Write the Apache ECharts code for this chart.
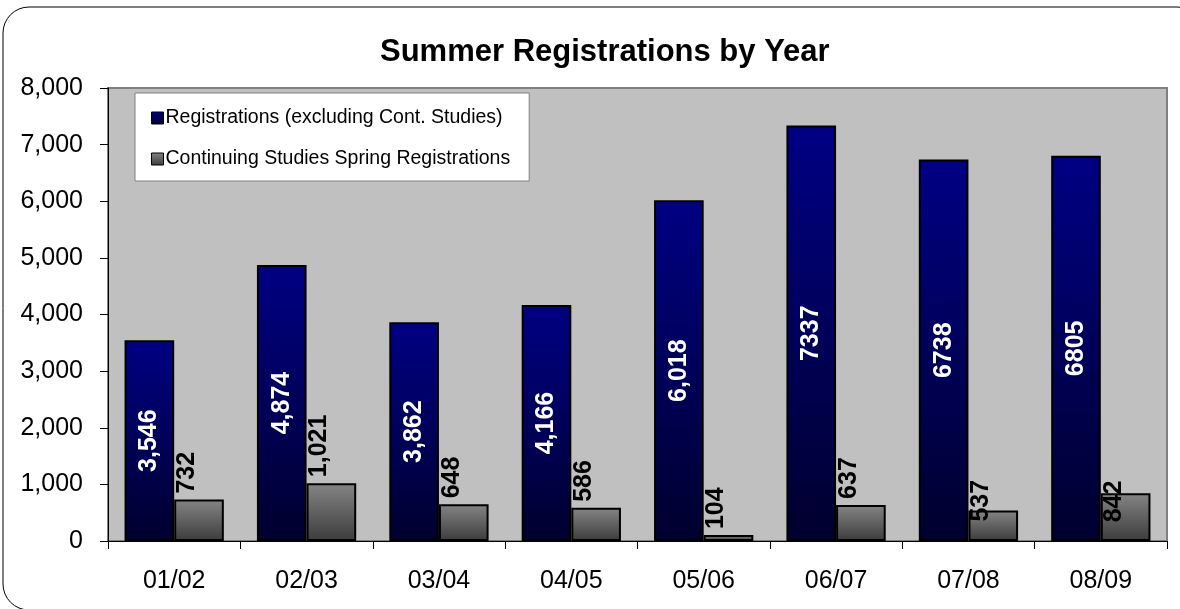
<!DOCTYPE html>
<html>
<head>
<meta charset="utf-8">
<script src="https://cdn.jsdelivr.net/npm/echarts@6/dist/echarts.min.js"></script>
<style>
  html, body { margin: 0; padding: 0; background: #fff; }
  #chart { width: 1180px; height: 609px; }
</style>
</head>
<body>
<div id="chart"></div>
<script>
// data
const years = ["01/02", "02/03", "03/04", "04/05", "05/06", "06/07", "07/08", "08/09"];
const registrations = [3546, 4874, 3862, 4166, 6018, 7337, 6738, 6805];
const registrationLabels = ["3,546", "4,874", "3,862", "4,166", "6,018", "7337", "6738", "6805"];
const contStudies = [732, 1021, 648, 586, 104, 637, 537, 842];
const contStudiesLabels = ["732", "1,021", "648", "586", "104", "637", "537", "842"];

const FONT = "'Liberation Sans', Arial, sans-serif";

// excel drops a couple of labels lower than the rest
const grayLabelDrop = { 6: 17, 7: 35 };

const chart = echarts.init(document.getElementById("chart"));

chart.setOption({
  animation: false,
  title: {
    text: "Summer Registrations by Year",
    left: 375,
    top: 32,
    textStyle: { fontFamily: FONT, fontSize: 31, fontWeight: "bold", color: "#000" }
  },
  graphic: [
    {
      type: "rect",
      shape: { x: 3, y: 7, width: 1200, height: 603, r: 26 },
      style: { fill: null, stroke: "#000", lineWidth: 1 },
      z: -1,
      silent: true
    }
  ],
  legend: {
    orient: "vertical",
    left: 135,
    top: 93,
    padding: [15, 19, 12, 16],
    itemGap: 21,
    itemWidth: 12,
    itemHeight: 12,
    icon: "rect",
    backgroundColor: "#fff",
    borderColor: "#808080",
    borderWidth: 1,
    textStyle: { fontFamily: FONT, fontSize: 19.5, color: "#000", padding: [0, 0, 0, -3] },
    itemStyle: { borderColor: "#000", borderWidth: 1 }
  },
  grid: {
    left: 108,
    right: 13,
    top: 88,
    bottom: 68,
    show: true,
    backgroundColor: "#c0c0c0",
    borderColor: "#808080",
    borderWidth: 2
  },
  xAxis: {
    type: "category",
    data: years,
    axisLine: { lineStyle: { color: "#000", width: 1 } },
    axisTick: { show: true, length: 8, lineStyle: { color: "#000" } },
    axisLabel: { fontFamily: FONT, fontSize: 25, color: "#000", margin: 28 }
  },
  yAxis: {
    type: "value",
    min: 0,
    max: 8000,
    interval: 1000,
    splitLine: { show: false },
    axisLine: { show: true, lineStyle: { color: "#000", width: 1 } },
    axisTick: { show: true, length: 8, lineStyle: { color: "#000" } },
    axisLabel: {
      fontFamily: FONT,
      fontSize: 25,
      color: "#000",
      margin: 25,
      formatter: v => v.toLocaleString("en-US")
    }
  },
  series: [
    {
      name: "Registrations (excluding Cont. Studies)",
      type: "bar",
      data: registrations,
      barGap: "0%",
      barCategoryGap: "25%",
      itemStyle: {
        color: {
          type: "linear", x: 0, y: 0, x2: 0, y2: 1,
          colorStops: [
            { offset: 0, color: "#000084" },
            { offset: 1, color: "#00002e" }
          ]
        },
        borderColor: "#000",
        borderWidth: 2
      },
      label: {
        show: true,
        position: "inside",
        rotate: 90,
        color: "#fff",
        fontFamily: FONT,
        fontSize: 25,
        fontWeight: "bold",
        formatter: p => registrationLabels[p.dataIndex]
      }
    },
    {
      name: "Continuing Studies Spring Registrations",
      type: "bar",
      data: contStudies.map((v, i) => ({
        value: v,
        label: { offset: [-(grayLabelDrop[i] || 0), -12] }
      })),
      barGap: "0%",
      barCategoryGap: "25%",
      itemStyle: {
        color: {
          type: "linear", x: 0, y: 0, x2: 0, y2: 1,
          colorStops: [
            { offset: 0, color: "#858585" },
            { offset: 1, color: "#3c3c3c" }
          ]
        },
        borderColor: "#000",
        borderWidth: 2
      },
      label: {
        show: true,
        position: "top",
        distance: 6,
        rotate: 90,
        align: "left",
        verticalAlign: "middle",
        color: "#000",
        fontFamily: FONT,
        fontSize: 25,
        fontWeight: "bold",
        formatter: p => contStudiesLabels[p.dataIndex]
      }
    }
  ]
});
</script>
</body>
</html>
